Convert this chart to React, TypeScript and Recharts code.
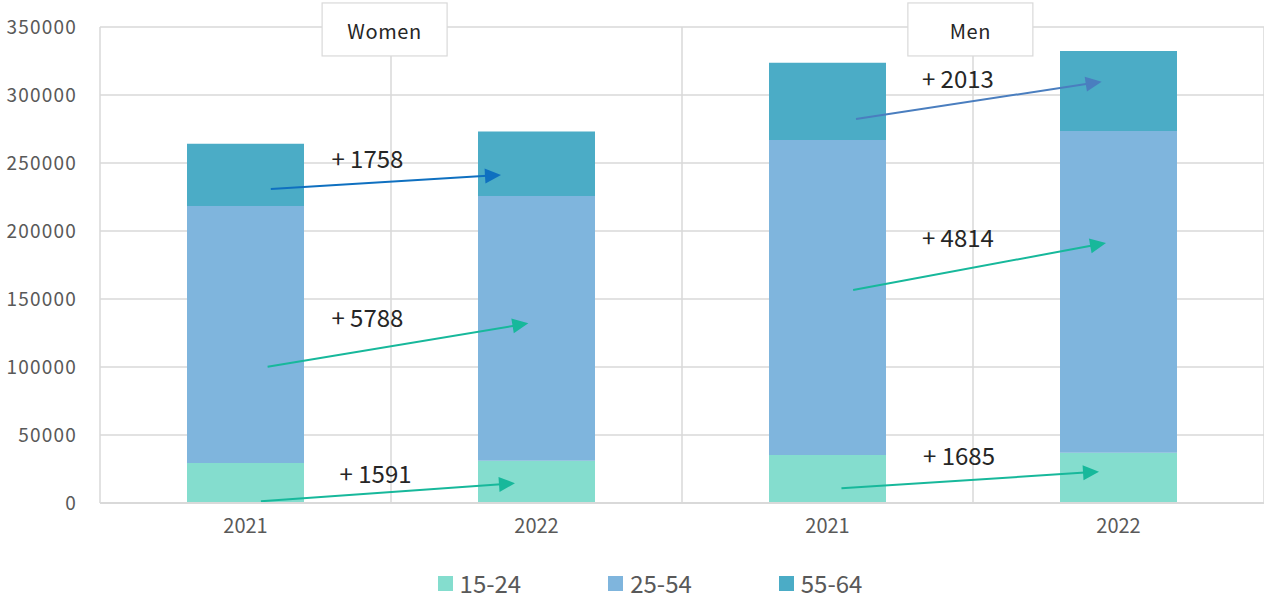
import React from 'react';
import { BarChart, Bar, XAxis, YAxis, CartesianGrid, Legend, ReferenceLine, ReferenceDot } from 'recharts';

const groups = ['Women', 'Women', 'Men', 'Men'];
const years = ['2021', '2022', '2021', '2022'];
const age15to24 = [29400, 30991, 35300, 36985];
const age25to54 = [189000, 194788, 231700, 236514];
const age55to64 = [45700, 47458, 56800, 58813];
const yTicks = [0, 50000, 100000, 150000, 200000, 250000, 300000, 350000];

// change arrows: position along the group axis (0..4) and value axis
const arrowFromX = [0.587, 0.576, 0.553, 2.598, 2.588, 2.548];
const arrowFromY = [230900, 100200, 1250, 282400, 156600, 10800];
const arrowToX = [1.378, 1.472, 1.426, 3.442, 3.457, 3.433];
const arrowToY = [241200, 132100, 14500, 309800, 191200, 23000];
const arrowColors = ['#0F70C0', '#17B89B', '#17B89B', '#4A7EBF', '#17B89B', '#17B89B'];
const changeLabels = ['+ 1758', '+ 5788', '+ 1591', '+ 2013', '+ 4814', '+ 1685'];
const labelX = [0.919, 0.919, 0.947, 2.948, 2.948, 2.952];
const labelY = [254400, 137000, 22600, 312700, 195600, 35800];

const groupNames = ['Women', 'Men'];
const groupBoxX = [0.978, 2.991];
const groupBoxY = [348200, 348200];

const seriesNames = ['15-24', '25-54', '55-64'];
const seriesColors = ['#84DDCE', '#7FB5DD', '#4BACC6'];

const data = years.map((y, i) => ({
  key: groups[i] + ' ' + y,
  pos: i + 0.5,
  a: age15to24[i],
  b: age25to54[i],
  c: age55to64[i],
}));

const FONT = '"Noto Sans CJK JP", "Noto Sans", sans-serif';

const Arrow = (color: string) => (props: any) => {
  const { x1, y1, x2, y2 } = props;
  const dx = x2 - x1;
  const dy = y2 - y1;
  const len = Math.sqrt(dx * dx + dy * dy);
  const ux = dx / len;
  const uy = dy / len;
  const head = 16;
  const half = 7.5;
  const bx = x2 - ux * head;
  const by = y2 - uy * head;
  const pts = `${x2},${y2} ${bx - uy * half},${by + ux * half} ${bx + uy * half},${by - ux * half}`;
  return (
    <g>
      <line x1={x1} y1={y1} x2={bx + ux * 2} y2={by + uy * 2} stroke={color} strokeWidth={2} />
      <polygon points={pts} fill={color} />
    </g>
  );
};

const ChangeText = (text: string) => (props: any) => (
  <text x={props.cx} y={props.cy} textAnchor="middle" dominantBaseline="central" fontSize={24} fill="#262626" fontFamily={FONT}>
    {text}
  </text>
);

const GroupBox = (text: string) => (props: any) => (
  <g>
    <rect x={props.cx - 62.5} y={props.cy - 26.5} width={125} height={53} fill="#ffffff" stroke="#D9D9D9" strokeWidth={1.2} />
    <text x={props.cx} y={props.cy + 1} textAnchor="middle" dominantBaseline="central" fontSize={20} fill="#262626" fontFamily={FONT} letterSpacing={0.6}>
      {text}
    </text>
  </g>
);

const LegendContent = () => (
  <div style={{ display: 'flex', justifyContent: 'center', paddingLeft: 36, height: 46, alignItems: 'center', paddingTop: 14, boxSizing: 'border-box' }}>
    {seriesNames.map((n, i) => (
      <div key={n} style={{ display: 'flex', alignItems: 'center', marginRight: i < 2 ? 87 : 0 }}>
        <span style={{ width: 15, height: 15, background: seriesColors[i], display: 'inline-block', marginRight: 7 }} />
        <span style={{ fontSize: 24, color: '#595959', fontFamily: FONT, lineHeight: '24px' }}>{n}</span>
      </div>
    ))}
  </div>
);

export default function App() {
  return (
    <div style={{ position: 'absolute', left: 0, top: 0, background: '#fff' }}>
      <BarChart width={1264} height={599} data={data} margin={{ top: 27, right: 0, left: 0, bottom: 0 }} barSize={117}>
        <CartesianGrid xAxisId="num" stroke="#D9D9D9" strokeWidth={1.5} />
        <XAxis
          dataKey="key"
          tickFormatter={(v: string) => v.split(' ')[1]}
          height={50}
          tickLine={false}
          tickSize={0}
          tickMargin={16}
          axisLine={{ stroke: '#D9D9D9', strokeWidth: 2 }}
          tick={{ fill: '#595959', fontSize: 20, fontFamily: FONT }}
          interval={0}
        />
        <XAxis xAxisId="num" dataKey="pos" type="number" domain={[0, 4]} ticks={[0, 1, 2, 3, 4]} hide allowDataOverflow />
        <YAxis
          domain={[0, 350000]}
          ticks={yTicks}
          width={100}
          tickLine={false}
          axisLine={false}
          tickSize={0}
          tickMargin={23}
          tick={{ fill: '#595959', fontSize: 19, fontFamily: FONT, letterSpacing: 1.2 }}
        />
        <Legend verticalAlign="bottom" content={<LegendContent />} />
        <Bar dataKey="a" name={seriesNames[0]} stackId="s" fill={seriesColors[0]} isAnimationActive={false} />
        <Bar dataKey="b" name={seriesNames[1]} stackId="s" fill={seriesColors[1]} isAnimationActive={false} />
        <Bar dataKey="c" name={seriesNames[2]} stackId="s" fill={seriesColors[2]} isAnimationActive={false} />
        {arrowFromX.map((x, i) => (
          <ReferenceLine
            key={'ar' + i}
            xAxisId="num"
            ifOverflow="visible"
            segment={[
              { x, y: arrowFromY[i] },
              { x: arrowToX[i], y: arrowToY[i] },
            ]}
            shape={Arrow(arrowColors[i])}
          />
        ))}
        {changeLabels.map((t, i) => (
          <ReferenceDot key={'lb' + i} xAxisId="num" x={labelX[i]} y={labelY[i]} ifOverflow="visible" shape={ChangeText(t)} />
        ))}
        {groupNames.map((g, i) => (
          <ReferenceDot key={'gb' + i} xAxisId="num" x={groupBoxX[i]} y={groupBoxY[i]} ifOverflow="visible" shape={GroupBox(g)} />
        ))}
      </BarChart>
    </div>
  );
}
